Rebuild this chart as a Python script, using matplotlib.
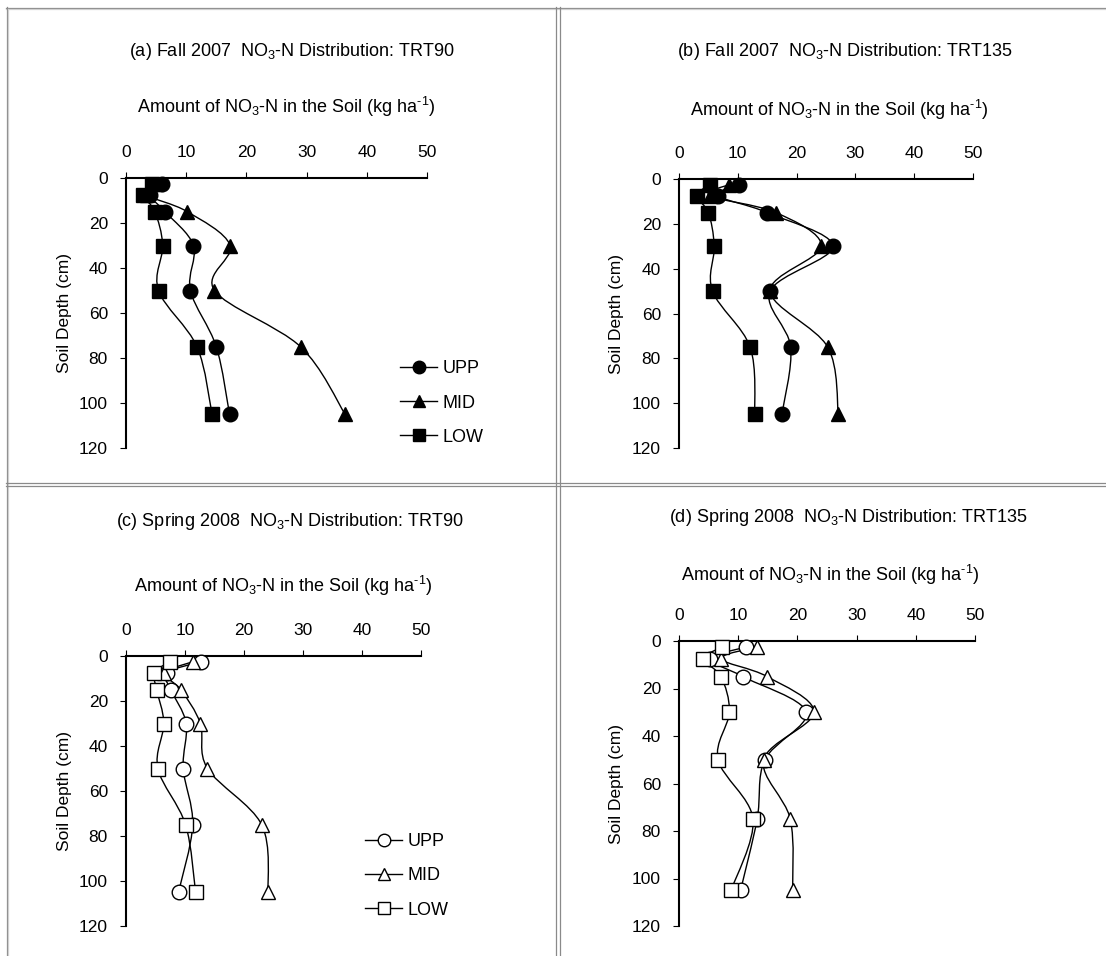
import numpy as np
import matplotlib
matplotlib.use("Agg")
import matplotlib.pyplot as plt
from matplotlib.path import Path
from matplotlib.patches import PathPatch
from matplotlib.lines import Line2D

plt.rcParams['font.family'] = ['Liberation Sans', 'DejaVu Sans']
plt.rcParams['mathtext.fontset'] = 'custom'
plt.rcParams['mathtext.rm'] = 'Liberation Sans'
plt.rcParams['mathtext.it'] = 'Liberation Sans:italic'
plt.rcParams['font.size'] = 13

# Soil depth (cm), midpoints of the sampling layers
depth = [2.5, 7.5, 15, 30, 50, 75, 105]

# (a) Fall 2007, TRT90
a_upp = [6.0, 4.0, 6.5, 11.2, 10.7, 15.0, 17.2]
a_mid = [5.0, 3.5, 10.2, 17.3, 14.7, 29.0, 36.4]
a_low = [4.3, 2.9, 4.8, 6.1, 5.4, 11.8, 14.3]

# (b) Fall 2007, TRT135
b_upp = [10.2, 6.7, 15.0, 26.2, 15.5, 19.0, 17.5]
b_mid = [8.5, 5.2, 16.5, 24.2, 15.5, 25.3, 27.1]
b_low = [5.2, 3.0, 5.0, 6.0, 5.7, 12.1, 12.9]

# (c) Spring 2008, TRT90
c_upp = [12.7, 6.9, 7.6, 10.2, 9.7, 11.3, 8.9]
c_mid = [11.4, 6.5, 9.3, 12.6, 13.8, 23.0, 24.1]
c_low = [7.4, 4.8, 5.2, 6.4, 5.4, 10.1, 11.8]

# (d) Spring 2008, TRT135
d_upp = [11.4, 5.2, 10.8, 21.5, 14.5, 13.2, 10.4]
d_mid = [13.1, 7.1, 14.9, 22.8, 14.3, 18.8, 19.2]
d_low = [7.3, 4.1, 7.1, 8.5, 6.6, 12.5, 8.8]

labels = ["UPP", "MID", "LOW"]
markers = ["o", "^", "s"]
msizes = [10.5, 10.5, 10]

titles = [r"(a) Fall 2007  NO$_3$-N Distribution: TRT90",
          r"(b) Fall 2007  NO$_3$-N Distribution: TRT135",
          r"(c) Spring 2008  NO$_3$-N Distribution: TRT90",
          r"(d) Spring 2008  NO$_3$-N Distribution: TRT135"]
xlab = r"Amount of NO$_3$-N in the Soil (kg ha$^{\text{-}1}$)"

W, H = 1106, 956
fig = plt.figure(figsize=(W / 100, H / 100), dpi=100)


def px(x0, y0, x1, y1):
    return [x0 / W, 1 - y1 / H, (x1 - x0) / W, (y1 - y0) / H]


def smooth(ax, x, y):
    # Excel-like smoothed line: Catmull-Rom segments as cubic Beziers
    p = np.column_stack([x, y]).astype(float)
    n = len(p)
    verts = [p[0]]
    codes = [Path.MOVETO]
    for i in range(n - 1):
        p0 = p[i - 1] if i > 0 else p[i]
        p1, p2 = p[i], p[i + 1]
        p3 = p[i + 2] if i + 2 < n else p[i + 1]
        verts += [p1 + (p2 - p0) / 6, p2 - (p3 - p1) / 6, p2]
        codes += [Path.CURVE4] * 3
    ax.add_patch(PathPatch(Path(verts, codes), fill=False, lw=1.0, color="black", zorder=2))


# axes boxes in pixels: (left, top, right, bottom)
boxes = [(126, 178, 427, 448), (679, 179, 973, 448),
         (126, 656, 421, 926), (679, 641, 975, 926)]
title_pos = [(292, 52), (845, 52), (290, 522), (849, 518)]
xlab_pos = [(286, 107), (839, 110), (283, 586), (830, 575)]
series = [(a_upp, a_mid, a_low), (b_upp, b_mid, b_low),
          (c_upp, c_mid, c_low), (d_upp, d_mid, d_low)]
filled = [True, True, False, False]
legend_at = [(400, 403), None, (365, 876), None]

for k in range(4):
    l, t, r, b = boxes[k]
    ax = fig.add_axes(px(l, t, r, b))
    ax.set_xlim(0, 50)
    ax.set_ylim(120, 0)
    ax.set_xticks([0, 10, 20, 30, 40, 50])
    ax.set_yticks([0, 20, 40, 60, 80, 100, 120])
    ax.xaxis.tick_top()
    ax.spines["right"].set_visible(False)
    ax.spines["bottom"].set_visible(False)
    ax.spines["top"].set_linewidth(1.5)
    ax.spines["left"].set_linewidth(1.5)
    ax.tick_params(length=4, width=0.8, pad=9, labelsize=12.5, direction="out")
    ax.patch.set_alpha(0)
    fc = "black" if filled[k] else "white"
    handles = []
    for vals, lab, mk, ms in zip(series[k], labels, markers, msizes):
        smooth(ax, vals, depth)
        ax.plot(vals, depth, ls="none", marker=mk, ms=ms, mfc=fc, mec="black",
                mew=1.0, zorder=3, clip_on=False)
        handles.append(Line2D([], [], color="black", lw=1.0, marker=mk, ms=ms - 1.5,
                              mfc=fc, mec="black", mew=1.0))
    fig.text(title_pos[k][0] / W, 1 - title_pos[k][1] / H, titles[k],
             ha="center", va="center", fontsize=13)
    fig.text(xlab_pos[k][0] / W, 1 - xlab_pos[k][1] / H, xlab,
             ha="center", va="center", fontsize=13)
    fig.text((l - 62) / W, 1 - (t + b) / 2 / H, "Soil Depth (cm)",
             rotation=90, ha="center", va="center", fontsize=12.5)
    if legend_at[k] is not None:
        lx, ly = legend_at[k]
        fig.legend(handles=handles, labels=labels, loc="center left",
                   bbox_to_anchor=(lx / W, 1 - ly / H), frameon=False,
                   handlelength=2.05, handletextpad=0.3, labelspacing=0.95,
                   borderpad=0, borderaxespad=0, fontsize=13)

# double grey panel borders
def hline(y, x0, x1, c):
    fig.add_artist(Line2D([x0 / W, x1 / W], [1 - y / H, 1 - y / H], color=c, lw=0.9))


def vline(x, y0, y1, c):
    fig.add_artist(Line2D([x / W, x / W], [1 - y0 / H, 1 - y1 / H], color=c, lw=0.9))


hline(7.5, 6, W, "#8a8a8a")
hline(9, 6, W, "#d0d0d0")
vline(6.5, 7, H, "#8a8a8a")
vline(8, 9, H, "#d0d0d0")
hline(483, 6, W, "#8a8a8a")
hline(486, 6, W, "#8a8a8a")
vline(556, 7, H, "#8a8a8a")
vline(559.5, 7, H, "#8a8a8a")

fig.savefig("out.png", dpi=100)
